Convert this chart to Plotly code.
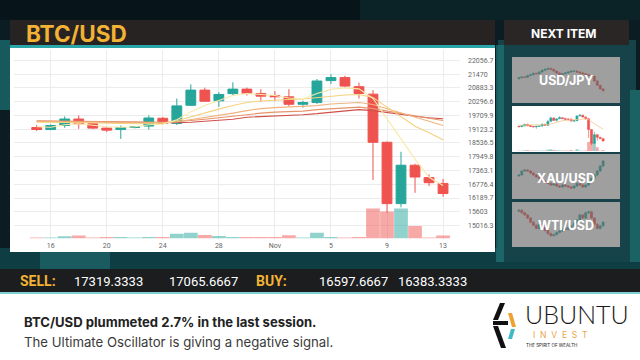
import plotly.graph_objects as go
import pandas as pd

W, H = 640, 360

# ---------------- data ----------------
dates = pd.date_range("2022-10-15", "2022-11-13", freq="D")
opens = [19196, 19110, 19282, 19558, 19355, 19170, 19110, 19196, 19256, 19590,
         19370, 20144, 20790, 20334, 20640, 20833, 20648, 20560, 20505, 20187,
         20260, 21195, 21324, 20936, 20618, 18567, 15952, 17589, 17060, 16813]
highs = [19300, 19330, 19670, 19713, 19400, 19200, 19280, 19260, 19713, 19650,
         20432, 21035, 20893, 20700, 21122, 20900, 20833, 20747, 20833, 20340,
         21264, 21466, 21400, 21109, 20790, 18600, 18162, 17650, 17200, 17000]
lows = [19050, 19080, 19183, 19140, 19130, 19000, 18710, 19160, 19110, 19330,
        19300, 20118, 20290, 20075, 20560, 20560, 20290, 20316, 20100, 20040,
        20200, 21050, 20900, 20433, 16955, 15565, 15793, 16413, 16700, 16250]
closes = [19110, 19282, 19558, 19355, 19170, 19084, 19196, 19230, 19601, 19370,
          20118, 20790, 20316, 20605, 20833, 20660, 20532, 20505, 20187, 20260,
          21178, 21324, 20962, 20648, 18567, 15952, 17589, 17085, 16844, 16383]
volume = [1.0, 1.0, 2.3, 3.0, 1.0, 1.5, 1.5, 1.0, 1.5, 1.5,
          4.7, 5.7, 3.5, 2.5, 1.5, 1.5, 1.5, 1.5, 3.3, 1.0,
          5.7, 1.5, 1.0, 1.5, 30.0, 27.0, 30.0, 12.5, 1.0, 3.0]

ma_fast = [19226, 19204, 19313, 19356, 19291, 19226, 19204, 19226, 19313, 19334,
           19528, 19872, 20131, 20346, 20562, 20648, 20605, 20562, 20454, 20411,
           20648, 20820, 20885, 20842, 20433, 19571, 18710, 17848, 17073, 16728]
ma_2 = [19420, 19420, 19420, 19420, 19399, 19377, 19356, 19356, 19377, 19377,
        19485, 19657, 19829, 19980, 20131, 20260, 20325, 20368, 20390, 20411,
        20476, 20540, 20583, 20605, 20476, 20066, 19657, 19248, 18968, 18679]
ma_3 = [19463, 19450, 19442, 19442, 19433, 19420, 19407, 19399, 19399, 19399,
        19442, 19528, 19614, 19700, 19808, 19916, 20002, 20045, 20066, 20088,
        20131, 20195, 20239, 20260, 20174, 20002, 19829, 19657, 19463, 19282]
ma_4 = [19485, 19476, 19468, 19459, 19450, 19442, 19433, 19429, 19425, 19420,
        19442, 19485, 19549, 19614, 19678, 19765, 19808, 19851, 19872, 19894,
        19958, 20002, 20045, 20066, 20002, 19894, 19786, 19678, 19592, 19498]
ma_5 = [19463, 19455, 19447, 19440, 19432, 19424, 19416, 19410, 19404, 19399,
        19399, 19420, 19463, 19506, 19549, 19635, 19657, 19700, 19722, 19743,
        19786, 19851, 19916, 19958, 19916, 19829, 19743, 19678, 19614, 19571]

y_tickvals = [22056.7, 21470, 20883.3, 20296.6, 19709.9, 19123.2, 18536.5,
              17949.8, 17363.1, 16776.4, 16189.7, 15603, 15016.3]
y_ticktext = ["22056.7", "21470", "20883.3", "20296.6", "19709.9", "19123.2", "18536.5",
              "17949.8", "17363.1", "16776.4", "16189.7", "15603", "15016.3"]
x_tickvals = ["2022-10-16", "2022-10-20", "2022-10-24", "2022-10-28",
              "2022-11-01", "2022-11-05", "2022-11-09", "2022-11-13"]
x_ticktext = ["16", "20", "24", "28", "Nov", "5", "9", "13"]

ticker_labels = ["SELL:", "BUY:"]
sell_values = ["17319.3333", "17065.6667"]
buy_values = ["16597.6667", "16383.3333"]

title_text = "BTC/USD"
headline = "BTC/USD plummeted 2.7% in the last session."
subline = "The Ultimate Oscillator is giving a negative signal."

thumb_names = ["USD/JPY", "XAU/USD", "WTI/USD"]
usdjpy_closes = [55, 57, 56, 60, 62, 65, 64, 68, 72, 74, 76, 74, 70, 66, 62,
                 64, 66, 68, 70, 70, 68, 66, 64, 62, 60, 58, 48, 38, 30, 26]
xauusd_closes = [62, 70, 72, 70, 66, 62, 58, 55, 50, 48, 45, 42, 44, 40, 38,
                 42, 40, 38, 36, 40, 45, 42, 38, 42, 48, 55, 62, 70, 80, 90]
wtiusd_closes = [85, 80, 76, 70, 62, 56, 50, 58, 52, 46, 40, 36, 38, 42, 45,
                 50, 48, 52, 55, 60, 66, 76, 70, 80, 82, 70, 58, 50, 55, 62]

UP, DOWN = "#26a69a", "#ef5350"

# ---------------- helpers ----------------
def px(x):
    return x / W

def py(y):
    return 1 - y / H

def rect(x0, y0, x1, y1, fill, layer="below", opacity=1.0):
    return dict(type="rect", xref="paper", yref="paper", x0=px(x0), x1=px(x1),
                y0=py(y1), y1=py(y0), fillcolor=fill, line=dict(width=0),
                layer=layer, opacity=opacity)

def poly(points, fill, layer="above"):
    d = "M " + " L ".join(f"{px(a):.5f},{py(b):.5f}" for a, b in points) + " Z"
    return dict(type="path", xref="paper", yref="paper", path=d, fillcolor=fill,
                line=dict(width=0), layer=layer)

def text(x, y, s, size, color, family="Inter", xanchor="left", weight="normal"):
    return dict(x=px(x), y=py(y), xref="paper", yref="paper", text=s, showarrow=False,
                xanchor=xanchor, yanchor="middle", borderpad=0,
                font=dict(size=size, color=color, family=family, weight=weight))

fig = go.Figure()

vol_colors = ["rgba(38,166,154,0.5)" if c >= o else "rgba(239,83,80,0.5)"
              for o, c in zip(opens, closes)]

# ---------------- main chart ----------------
fig.add_trace(go.Bar(x=dates, y=volume, yaxis="y2", xaxis="x",
                     marker=dict(color=vol_colors, line=dict(width=0)),
                     width=86400000 * 0.98, hoverinfo="skip"))
for vals, col in [(ma_5, "#d0504c"), (ma_4, "#e8936a"), (ma_3, "#f2b37e"),
                  (ma_2, "#f3d27e"), (ma_fast, "#f8e9a8")]:
    fig.add_trace(go.Scatter(x=dates, y=vals, mode="lines", line=dict(color=col, width=1.1),
                             xaxis="x", yaxis="y", hoverinfo="skip"))
fig.add_trace(go.Candlestick(x=dates, open=opens, high=highs, low=lows, close=closes,
                             xaxis="x", yaxis="y",
                             increasing=dict(line=dict(color=UP, width=1), fillcolor=UP),
                             decreasing=dict(line=dict(color=DOWN, width=1), fillcolor=DOWN)))

# ---------------- BTC thumbnail (active) ----------------
fig.add_trace(go.Bar(x=dates, y=volume, yaxis="y4", xaxis="x2",
                     marker=dict(color=vol_colors, line=dict(width=0)),
                     width=86400000 * 0.98, hoverinfo="skip"))
fig.add_trace(go.Scatter(x=dates, y=ma_2, mode="lines", line=dict(color="#f3c98e", width=0.8),
                         xaxis="x2", yaxis="y3", hoverinfo="skip"))
fig.add_trace(go.Candlestick(x=dates, open=opens, high=highs, low=lows, close=closes,
                             xaxis="x2", yaxis="y3",
                             increasing=dict(line=dict(color=UP, width=0.6), fillcolor=UP),
                             decreasing=dict(line=dict(color=DOWN, width=0.6), fillcolor=DOWN)))

# ---------------- grey thumbnails ----------------
thumb_series = [usdjpy_closes, xauusd_closes, wtiusd_closes]
thumb_axes = [("x3", "y5"), ("x4", "y6"), ("x5", "y7")]
for cl, (xa, ya) in zip(thumb_series, thumb_axes):
    op = [cl[0] - 2] + cl[:-1]
    hi = [max(a, b) + 2 for a, b in zip(op, cl)]
    lo = [min(a, b) - 2 for a, b in zip(op, cl)]
    idx = list(range(len(cl)))
    fig.add_trace(go.Candlestick(x=idx, open=op, high=hi, low=lo, close=cl, xaxis=xa, yaxis=ya,
                                 increasing=dict(line=dict(color=UP, width=0.6), fillcolor=UP),
                                 decreasing=dict(line=dict(color=DOWN, width=0.6), fillcolor=DOWN)))

# ---------------- shapes ----------------
shapes = [
    rect(0, 0, 640, 20, "#071419"),
    rect(360, 0, 640, 20, "#0c262b", opacity=0.8),
    rect(0, 248, 640, 270, "#0f3d44"),
    rect(40, 252, 110, 270, "#1f6f72", opacity=0.6),
    rect(0, 40, 10, 110, "#175a5e"),
    rect(498, 40, 636, 262, "#164349"),
    rect(496, 45, 504, 262, "#1f7477", opacity=0.7),
    rect(630, 90, 640, 262, "#1b6265"),
    # title bar
    rect(10, 20, 495, 45, "#272323"),
    rect(10, 45, 495, 48, "#2aa5a8"),
    # white panel
    rect(10, 48, 495, 252, "#ffffff"),
    # next item bar
    rect(504, 20, 629, 45, "#2a2626"),
    # thumbnails base
    rect(512, 57, 620, 103, "#ffffff"),
    rect(512, 106, 620, 152, "#ffffff"),
    rect(512, 154, 620, 199, "#ffffff"),
    rect(512, 202, 620, 247, "#ffffff"),
    # grey overlays
    rect(512, 57, 620, 103, "rgba(100,100,100,0.62)", layer="above"),
    rect(512, 154, 620, 199, "rgba(100,100,100,0.62)", layer="above"),
    rect(512, 202, 620, 247, "rgba(100,100,100,0.62)", layer="above"),
    # ticker bar
    rect(0, 269, 640, 292, "#1b1d1f"),
    rect(0, 292, 640, 294, "#7fcfd0"),
    rect(0, 294, 640, 360, "#ffffff"),
    # logo icon
    poly([(500, 303), (505, 303), (498, 320), (493, 320)], "#111111"),
    poly([(493, 321), (508, 321), (508, 325), (493, 325)], "#111111"),
    poly([(493, 326), (498, 326), (506, 348), (501, 348)], "#111111"),
    poly([(508, 313), (512, 313), (516, 327), (512, 327)], "#f0a030"),
    poly([(511, 329), (515, 329), (512, 339), (508, 339)], "#3fb8c8"),
]

annotations = [
    text(25, 33, title_text, 22.5, "#f2b234", weight="bold"),
    text(564, 33, "NEXT ITEM", 12, "#ffffff", xanchor="center", weight="bold"),
    text(566, 81, thumb_names[0], 12.5, "#ffffff", xanchor="center", weight="bold"),
    text(566, 178, thumb_names[1], 12.5, "#ffffff", xanchor="center", weight="bold"),
    text(566, 225, thumb_names[2], 12.5, "#ffffff", xanchor="center", weight="bold"),
    text(19, 281, ticker_labels[0], 14, "#f2b234", family="Roboto", weight="bold"),
    text(73, 281, sell_values[0], 13, "#ffffff", family="Roboto"),
    text(168, 281, sell_values[1], 13, "#ffffff", family="Roboto"),
    text(255, 281, ticker_labels[1], 14, "#f2b234", family="Roboto", weight="bold"),
    text(318, 281, buy_values[0], 13, "#ffffff", family="Roboto"),
    text(397, 281, buy_values[1], 13, "#ffffff", family="Roboto"),
    text(23, 321.5, headline, 13.1, "#222222", weight="bold"),
    text(23, 341.5, subline, 13.2, "#3a3a3a"),
    text(577, 314, "UBUNTU", 25, "#1a1a1a", family="Lato", xanchor="center", weight=300),
    text(560, 335, "I  N  V  E  S  T", 8.5, "#e9a646", xanchor="center"),
    text(551, 345, "THE SPIRIT OF WEALTH", 4.5, "#222222", xanchor="center"),
]

day = pd.Timedelta(days=1)
grid = "#ececec"
tickfont = dict(size=7, color="#666666", family="Roboto")

def thumb_x(d0, d1):
    return dict(domain=[px(d0), px(d1)], showgrid=False, showticklabels=False, zeroline=False,
                rangeslider=dict(visible=False), fixedrange=True)

def thumb_y(t, b):
    return dict(domain=[py(b), py(t)], showgrid=False, showticklabels=False, zeroline=False,
                fixedrange=True)

fig.update_layout(
    width=W, height=H, autosize=False, margin=dict(l=0, r=0, t=0, b=0, pad=0),
    paper_bgcolor="#0b1d23", plot_bgcolor="rgba(0,0,0,0)", showlegend=False,
    boxgap=0.3, boxgroupgap=0,
    shapes=shapes, annotations=annotations,
    xaxis=dict(domain=[px(14), px(460)], type="date",
               range=[dates[0] - 1.62 * day, dates[-1] + 1.21 * day],
               tickvals=x_tickvals, ticktext=x_ticktext, tickfont=tickfont,
               showgrid=True, gridcolor=grid, gridwidth=1, zeroline=False, ticks="",
               rangeslider=dict(visible=False), anchor="y", ticklabelstandoff=1),
    yaxis=dict(domain=[py(238.5), py(50)], side="right", range=[14465, 22500],
               tickvals=y_tickvals, ticktext=y_ticktext, tickfont=tickfont,
               showgrid=True, gridcolor=grid, gridwidth=1, zeroline=False, ticks="",
               anchor="x", ticklabelstandoff=7),
    yaxis2=dict(overlaying="y", range=[0, 188], visible=False, anchor="x"),
    xaxis2=dict(thumb_x(516, 606), type="date", anchor="y3",
                range=[dates[0] - 1.0 * day, dates[-1] + 1.0 * day]),
    yaxis3=dict(thumb_y(109, 151), anchor="x2", range=[14465, 22500]),
    yaxis4=dict(overlaying="y3", range=[0, 140], visible=False, anchor="x2"),
    xaxis3=dict(thumb_x(516, 606), anchor="y5", range=[-1, 30]),
    yaxis5=dict(thumb_y(60, 100), anchor="x3", range=[5, 95]),
    xaxis4=dict(thumb_x(516, 606), anchor="y6", range=[-1, 30]),
    yaxis6=dict(thumb_y(157, 196), anchor="x4", range=[20, 98]),
    xaxis5=dict(thumb_x(516, 606), anchor="y7", range=[-1, 30]),
    yaxis7=dict(thumb_y(205, 244), anchor="x5", range=[20, 95]),
)

fig.write_html("out.html")
